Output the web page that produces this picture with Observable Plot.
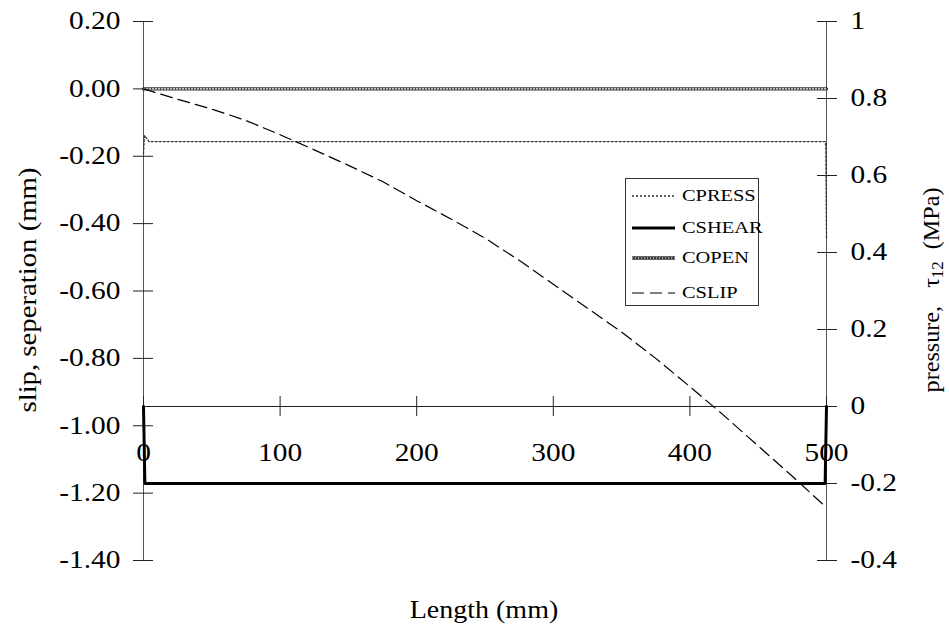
<!DOCTYPE html>
<html>
<head>
<meta charset="utf-8">
<script src="https://cdn.jsdelivr.net/npm/d3@7"></script>
<script src="https://cdn.jsdelivr.net/npm/@observablehq/plot@0.6"></script>
<style>
  body { margin: 0; background: #fff; }
  #wrap { position: relative; width: 949px; height: 630px; font-family: "Liberation Serif", "Times New Roman", serif; }
  #legend { position: absolute; left: 625px; top: 178px; width: 134px; height: 128px; box-sizing: border-box;
            border: 1px solid #333; background: #fff; }
  .row { position: absolute; left: 0; height: 20px; width: 100%; }
  .row svg { position: absolute; left: 6px; top: 0; }
  .row span { position: absolute; left: 56px; top: 0; font-size: 17px; line-height: 20px; color: #000;
              font-family: "Liberation Serif", "Times New Roman", serif;
              transform: scaleX(1.2); transform-origin: left center; white-space: nowrap; }
  svg text, svg tspan { font-family: "Liberation Serif", "Times New Roman", serif !important; }
</style>
</head>
<body>
<div id="wrap"></div>
<script>
// ---- data ----
const lengthTicks = [0, 100, 200, 300, 400, 500];
const leftTicks = [0.2, 0, -0.2, -0.4, -0.6, -0.8, -1.0, -1.2, -1.4];
const rightTicks = [1, 0.8, 0.6, 0.4, 0.2, 0, -0.2, -0.4];
const rightTickLabels = ["1", "0.8", "0.6", "0.4", "0.2", "0", "-0.2", "-0.4"];

const seriesNames = ["CPRESS", "CSHEAR", "COPEN", "CSLIP"];

// CPRESS (right axis, MPa)
const pressX = [0, 0.7, 4, 250, 499, 499.5, 500];
const pressY = [0.657, 0.704, 0.688, 0.688, 0.688, 0.676, 0.436];
// CSHEAR (right axis, MPa)
const shearX = [0, 1, 499, 500];
const shearY = [0, -0.2, -0.2, 0];
// COPEN (left axis, mm)
const openX = [0, 100, 200, 300, 400, 500];
const openY = [0, 0, 0, 0, 0, 0];
// CSLIP (left axis, mm)
const slipX = [0, 25, 50, 75, 100, 125, 150, 175, 200, 225, 250, 275, 300, 325, 350, 375, 400, 425, 450, 475, 500];
const slipY = [0, -0.031, -0.060, -0.094, -0.136, -0.181, -0.227, -0.275, -0.332, -0.386, -0.443, -0.509, -0.580, -0.651, -0.722, -0.800, -0.884, -0.970, -1.060, -1.150, -1.243];

const leftDomain = [-1.4, 0.2];
const rightDomain = [-0.4, 1];
const toLeft = v => leftDomain[0] + (v - rightDomain[0]) * (leftDomain[1] - leftDomain[0]) / (rightDomain[1] - rightDomain[0]);

const zip = (xs, ys, f = d => d) => xs.map((x, i) => ({x, y: f(ys[i])}));
const press = zip(pressX, pressY, toLeft);
const shear = zip(shearX, shearY, toLeft);
const open = zip(openX, openY);
const slip = zip(slipX, slipY);

const styles = {
  CPRESS: {stroke: "#333", strokeWidth: 1.3, strokeDasharray: "2,2"},
  CSHEAR: {stroke: "#000", strokeWidth: 3},
  COPEN: {stroke: "#333", strokeWidth: 3.4},
  COPEN_INNER: {stroke: "#fff", strokeWidth: 1.1, strokeDasharray: "1.2,1.8"},
  CSLIP: {stroke: "#000", strokeWidth: 1.2, strokeDasharray: "12,6"}
};

const rightLabel = d => {
  const i = rightTicks.findIndex(v => Math.abs(toLeft(v) - d) < 1e-9);
  return i >= 0 ? rightTickLabels[i] : "";
};

const FONT = "'Liberation Serif', 'Times New Roman', serif";

const plot = Plot.plot({
  width: 949,
  height: 630,
  marginLeft: 143,
  marginRight: 123,
  marginTop: 21,
  marginBottom: 70,
  style: {fontFamily: FONT, fontSize: "24.5px", color: "#000", background: "#fff", overflow: "visible"},
  x: {domain: [0, 500], axis: null},
  y: {domain: leftDomain, axis: null},
  marks: [
    Plot.ruleX([0, 500], {stroke: "#555", strokeWidth: 1}),
    Plot.ruleY([toLeft(0)], {stroke: "#222", strokeWidth: 1}),
    Plot.axisY(leftTicks, {anchor: "left", tickSize: 20, dx: 10, tickPadding: 13, tickFormat: d => d.toFixed(2), label: null, stroke: "#222"}),
    Plot.axisY(rightTicks.map(toLeft), {anchor: "right", tickSize: 20, dx: -10, tickPadding: 14, tickFormat: rightLabel, label: null, stroke: "#222"}),
    Plot.axisX(lengthTicks, {anchor: "bottom", tickSize: 20, dy: -164, tickPadding: 27, tickFormat: d => String(d), label: null, stroke: "#222"}),
    Plot.line(press, {x: "x", y: "y", ...styles.CPRESS}),
    Plot.line(open, {x: "x", y: "y", ...styles.COPEN}),
    Plot.line(open, {x: "x", y: "y", ...styles.COPEN_INNER}),
    Plot.line(slip, {x: "x", y: "y", ...styles.CSLIP}),
    Plot.line(shear, {x: "x", y: "y", ...styles.CSHEAR})
  ]
});

// widen glyphs slightly to match reference typography
plot.querySelectorAll("text").forEach(t => {
  const tr = t.getAttribute("transform");
  if (tr) t.setAttribute("transform", tr + " scale(1.2,1)");
});

const svg = d3.select(plot);
// axis titles
svg.append("text")
  .attr("transform", "translate(484,618) scale(1.12,1)")
  .attr("text-anchor", "middle")
  .style("font-family", FONT)
  .style("font-size", "25px")
  .text("Length (mm)");
svg.append("text")
  .attr("transform", "translate(36,290) rotate(-90) scale(1.15,1)")
  .attr("text-anchor", "middle")
  .style("font-family", FONT)
  .style("font-size", "25px")
  .text("slip, seperation (mm)");
const rt = svg.append("text")
  .attr("transform", "translate(939,290) rotate(-90) scale(1.05,1)")
  .attr("text-anchor", "middle")
  .style("font-family", FONT)
  .style("font-size", "23px");
rt.append("tspan").text("pressure,\u00a0\u00a0\u00a0τ");
rt.append("tspan").style("font-size", "16px").attr("dy", 4).text("12");
rt.append("tspan").attr("dy", -4).text("\u00a0\u00a0(MPa)");

const wrap = document.getElementById("wrap");
wrap.appendChild(plot);

// legend
const legend = d3.select(wrap).append("div").attr("id", "legend");
const rowTops = [7, 39, 69, 104];
seriesNames.forEach((name, i) => {
  const row = legend.append("div").attr("class", "row").style("top", rowTops[i] + "px");
  const s = row.append("svg").attr("width", 44).attr("height", 20);
  const addLine = st => s.append("line").attr("x1", 0).attr("x2", 43).attr("y1", 10).attr("y2", 10)
    .attr("stroke", st.stroke).attr("stroke-width", st.strokeWidth).attr("stroke-dasharray", st.strokeDasharray || null);
  addLine(styles[name]);
  if (name === "COPEN") addLine(styles.COPEN_INNER);
  row.append("span").text(name);
});
</script>
</body>
</html>
